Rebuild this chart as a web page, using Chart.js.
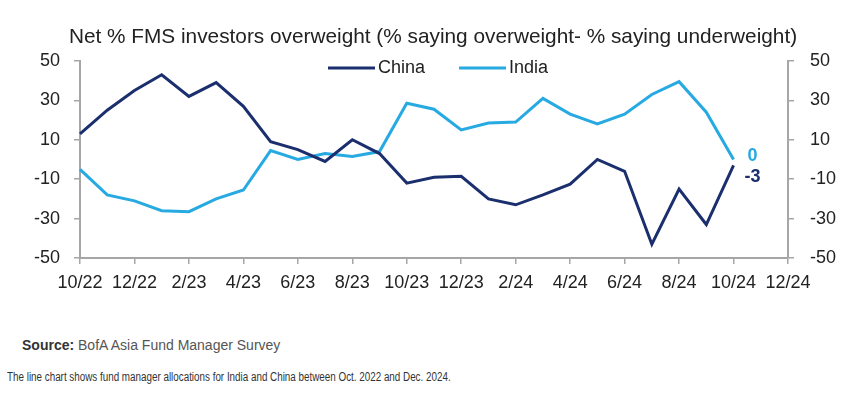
<!DOCTYPE html>
<html>
<head>
<meta charset="utf-8">
<script src="https://cdn.jsdelivr.net/npm/chart.js@4"></script>
<style>
    body { margin: 0; background: #fff; width: 852px; height: 399px; overflow: hidden; position: relative; font-family: "Liberation Sans", Arial, sans-serif; }
    #chart { position: absolute; left: 0; top: 0; }
    .source { position: absolute; left: 22px; top: 337px; font-size: 14px; color: #555; }
    .source b { color: #333; }
    .caption { position: absolute; left: 7px; top: 370px; font-size: 12px; color: #333; white-space: nowrap; transform: scaleX(0.82); transform-origin: left top; }
</style>
</head>
<body>
<canvas id="chart" width="852" height="300"></canvas>
<div class="source"><b>Source:</b> BofA Asia Fund Manager Survey</div>
<div class="caption">The line chart shows fund manager allocations for India and China between Oct. 2022 and Dec. 2024.</div>
<script>
const months = ["10/22", "11/22", "12/22", "1/23", "2/23", "3/23", "4/23", "5/23", "6/23", "7/23", "8/23", "9/23",
    "10/23", "11/23", "12/23", "1/24", "2/24", "3/24", "4/24", "5/24", "6/24", "7/24", "8/24", "9/24",
    "10/24", "11/24", "12/24"];
const chinaValues = [13, 25, 35, 43, 32, 39, 27, 9, 5, -1, 10, 3, -12, -9, -8.5, -20, -23, -18, -12.5, 0, -6, -43, -15, -33, -3];
const indiaValues = [-5, -18, -21, -26, -26.5, -20, -15.5, 4.5, 0, 3, 1.5, 4, 28.5, 25.5, 15, 18.5, 19, 31, 23, 18, 23, 33, 39.5, 24, 0];
const yMin = -50;
const yMax = 50;
const yStep = 20;

const NAVY = "#1b2f6e";
const BLUE = "#27a9e1";
const AXIS = "#a6a6a6";
const TEXT = "#222";

// legend drawn inside the plot, just under the top edge
const lineLegend = {
    id: "lineLegend",
    afterDraw(chart) {
        const ctx = chart.ctx;
        const area = chart.chartArea;
        let x = area.left + 248;
        const y = area.top + 7;
        ctx.save();
        ctx.font = "18px 'Liberation Sans', Arial, sans-serif";
        ctx.textBaseline = "middle";
        chart.data.datasets.forEach(ds => {
            ctx.strokeStyle = ds.borderColor;
            ctx.lineWidth = 3;
            ctx.beginPath();
            ctx.moveTo(x, y);
            ctx.lineTo(x + 47, y);
            ctx.stroke();
            x += 50;
            ctx.fillStyle = TEXT;
            ctx.fillText(ds.label, x, y);
            x += ctx.measureText(ds.label).width + 34;
        });
        ctx.restore();
    }
};

// last values written next to the end of each line
const endLabels = {
    id: "endLabels",
    afterDatasetsDraw(chart) {
        const ctx = chart.ctx;
        const xs = chart.scales.x;
        const ys = chart.scales.y;
        const offsets = [12, -3];
        ctx.save();
        ctx.font = "bold 18px 'Liberation Sans', Arial, sans-serif";
        ctx.textAlign = "center";
        ctx.textBaseline = "middle";
        chart.data.datasets.forEach((ds, i) => {
            const last = ds.data.length - 1;
            const v = ds.data[last];
            ctx.fillStyle = ds.borderColor;
            ctx.fillText(String(Math.round(v)), xs.getPixelForValue(last) + 19, ys.getPixelForValue(v) + offsets[i]);
        });
        ctx.restore();
    }
};

function yAxis(position, width, pad) {
    return {
        position: position,
        min: yMin,
        max: yMax,
        afterFit: s => { s.width = width; },
        grid: { drawOnChartArea: false, tickLength: 6, color: AXIS, lineWidth: 1.5 },
        border: { color: AXIS, width: 2 },
        ticks: {
            stepSize: yStep,
            padding: pad,
            color: TEXT,
            font: { size: 18, family: "'Liberation Sans', Arial, sans-serif" }
        }
    };
}

new Chart(document.getElementById("chart"), {
    type: "line",
    data: {
        labels: months,
        datasets: [
            { label: "China", data: chinaValues, borderColor: NAVY, backgroundColor: NAVY, borderWidth: 3, pointRadius: 0, tension: 0, yAxisID: "y" },
            { label: "India", data: indiaValues, borderColor: BLUE, backgroundColor: BLUE, borderWidth: 3, pointRadius: 0, tension: 0, yAxisID: "y" }
        ]
    },
    options: {
        responsive: false,
        animation: false,
        layout: { padding: { left: 14, right: 0, top: 0, bottom: 0 } },
        plugins: {
            legend: { display: false },
            tooltip: { enabled: false },
            title: {
                display: true,
                text: "Net % FMS investors overweight (% saying overweight- % saying underweight)",
                color: TEXT,
                font: { size: 20.8, weight: "normal", family: "'Liberation Sans', Arial, sans-serif" },
                padding: { top: 25, bottom: 11 }
            }
        },
        scales: {
            x: {
                offset: false,
                afterFit: s => { s.height = 42; },
                grid: {
                    drawOnChartArea: false,
                    tickLength: 6,
                    lineWidth: 1.5,
                    color: c => (c.index % 2 ? "rgba(0,0,0,0)" : AXIS)
                },
                border: { color: AXIS, width: 2 },
                ticks: {
                    autoSkip: false,
                    maxRotation: 0,
                    padding: 8,
                    color: TEXT,
                    font: { size: 18, family: "'Liberation Sans', Arial, sans-serif" },
                    callback: (v, i) => (i % 2 ? "" : months[i])
                }
            },
            y: yAxis("left", 66, 14),
            y2: yAxis("right", 64, 16)
        }
    },
    plugins: [lineLegend, endLabels]
});
</script>
</body>
</html>
